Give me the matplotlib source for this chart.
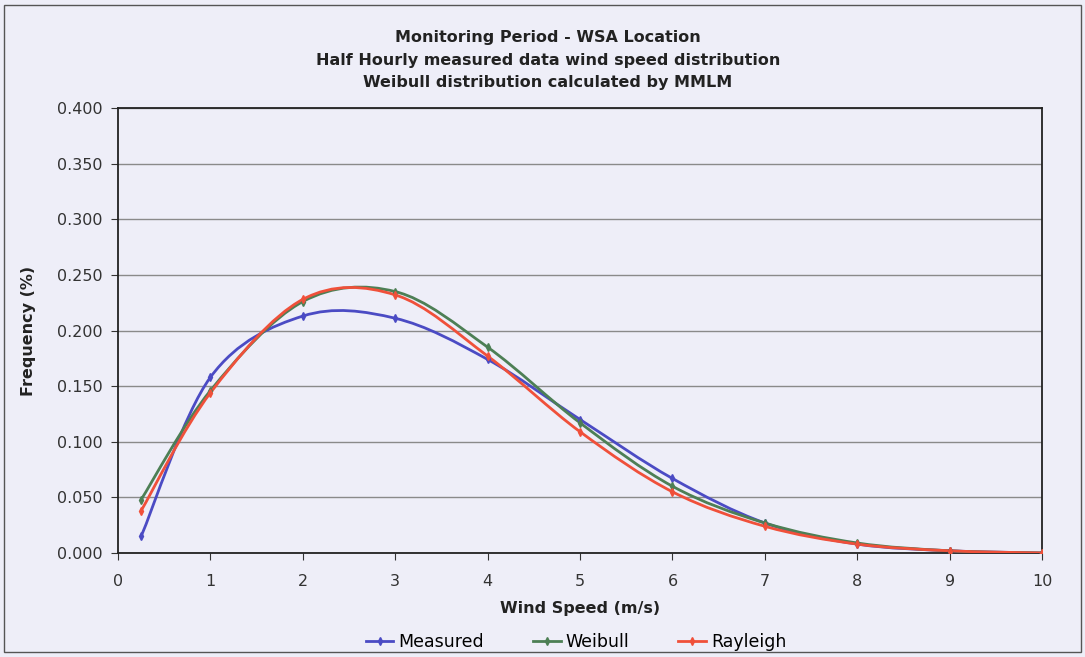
import numpy as np
import matplotlib.pyplot as plt
from matplotlib.path import Path
from matplotlib.patches import PathPatch, Rectangle

# wind speed bins (m/s)
speed = [0.25, 1, 2, 3, 4, 5, 6, 7, 8, 9, 10]

measured = [0.015, 0.158, 0.213, 0.211, 0.174, 0.120, 0.067, 0.027, 0.008, 0.002, 0.000]
weibull = [0.048, 0.146, 0.226, 0.235, 0.185, 0.117, 0.060, 0.027, 0.009, 0.002, 0.000]
rayleigh = [0.038, 0.144, 0.228, 0.232, 0.177, 0.109, 0.055, 0.024, 0.008, 0.002, 0.000]

bg = "#eeeef8"


def smooth_path(x, y):
    # Excel-style smoothed line: Catmull-Rom segments as cubic Bezier curves
    x = np.asarray(x, float)
    y = np.asarray(y, float)
    verts = [(x[0], y[0])]
    codes = [Path.MOVETO]
    n = len(x)
    for i in range(n - 1):
        i0 = max(i - 1, 0)
        i3 = min(i + 2, n - 1)
        c1 = (x[i] + (x[i + 1] - x[i0]) / 6, y[i] + (y[i + 1] - y[i0]) / 6)
        c2 = (x[i + 1] - (x[i3] - x[i]) / 6, y[i + 1] - (y[i3] - y[i]) / 6)
        verts += [c1, c2, (x[i + 1], y[i + 1])]
        codes += [Path.CURVE4] * 3
    return Path(verts, codes)


fig = plt.figure(figsize=(10.85, 6.57), dpi=100, facecolor=bg)
fig.patches.append(Rectangle((0.004, 0.008), 0.992, 0.985, transform=fig.transFigure,
                             fill=False, edgecolor="#555555", linewidth=1))
ax = fig.add_axes([0.1088, 0.1583, 0.8516, 0.6773])
ax.set_facecolor(bg)

series = [
    ("Measured", measured, "#4b4bc4"),
    ("Weibull", weibull, "#4d7f55"),
    ("Rayleigh", rayleigh, "#f0503a"),
]
for name, vals, col in series:
    ax.add_patch(PathPatch(smooth_path(speed, vals), facecolor="none", edgecolor=col,
                           linewidth=2.0, zorder=3))
    ax.plot(speed, vals, linestyle="none", color=col, marker="d", markersize=4,
            label=name, zorder=4)

ax.set_xlim(0, 10)
ax.set_ylim(0, 0.4)
ax.set_xticks(range(0, 11))
ax.set_yticks(np.arange(0, 0.401, 0.05))
ax.set_yticklabels([f"{v:.3f}" for v in np.arange(0, 0.401, 0.05)])
ax.grid(axis="y", color="#8a8a8a", linewidth=1)
ax.set_axisbelow(True)
for s in ax.spines.values():
    s.set_color("#222222")
    s.set_linewidth(1.3)
ax.tick_params(axis="both", labelsize=11.5, colors="#333333", length=5, direction="out")
ax.tick_params(axis="x", pad=10)
ax.tick_params(axis="y", pad=6)

ax.set_xlabel("Wind Speed (m/s)", fontsize=11.5, fontweight="bold", labelpad=9, color="#222222")
ax.set_ylabel("Frequency (%)", fontsize=11.5, fontweight="bold", labelpad=15, color="#222222")

fig.text(0.505, 0.943, "Monitoring Period - WSA Location", ha="center", va="center",
         fontsize=11.5, fontweight="bold", color="#222222")
fig.text(0.505, 0.908, "Half Hourly measured data wind speed distribution", ha="center", va="center",
         fontsize=11.5, fontweight="bold", color="#222222")
fig.text(0.505, 0.875, "Weibull distribution calculated by MMLM", ha="center", va="center",
         fontsize=11.5, fontweight="bold", color="#222222")

handles = [plt.Line2D([], [], color=c, linewidth=2, marker="d", markersize=4) for _, _, c in series]
fig.legend(handles, [n for n, _, _ in series], loc="center", bbox_to_anchor=(0.531, 0.023), ncol=3,
           frameon=False, fontsize=12.5, handlelength=1.6, handletextpad=0.3, columnspacing=2.8)

fig.savefig("out.png", dpi=100, facecolor=bg)
